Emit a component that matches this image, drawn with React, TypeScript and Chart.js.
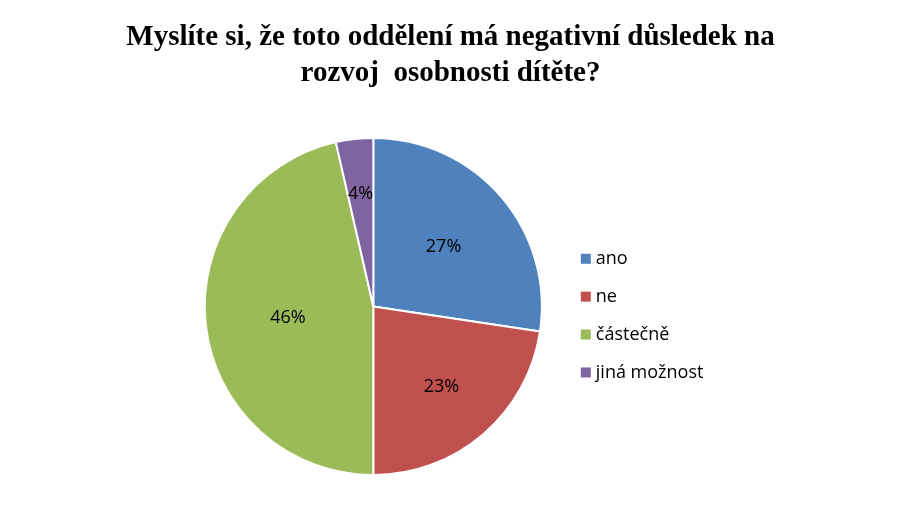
import React, { useEffect, useRef } from 'react';
import { Chart, registerables, layouts } from 'chart.js';

Chart.register(...registerables);

const TITLE_LINES = ['Myslíte si, že toto oddělení má negativní důsledek na', 'rozvoj  osobnosti dítěte?'];
const CATEGORIES = ['ano', 'ne', 'částečně', 'jiná možnost'];
const COUNTS = [23, 19, 39, 3];
const COLORS = ['#4F81BD', '#C0504D', '#9BBB59', '#8064A2'];

const LABEL_RADIUS = [0.55, 0.62, 0.51, 0.68];
const SPACER_WIDTH = 154.4;

const spacerPlugin = {
  id: 'rightSpacer',
  beforeInit(chart: any) {
    const box: any = {
      position: 'right',
      weight: 100,
      fullSize: false,
      options: { stackWeight: 1 },
      top: 0,
      left: 0,
      right: 0,
      bottom: 0,
      width: 0,
      height: 0,
      update(_maxWidth: number, maxHeight: number) {
        this.width = SPACER_WIDTH;
        this.height = maxHeight;
      },
      isHorizontal() {
        return false;
      },
      draw() {},
    };
    layouts.addBox(chart, box);
  },
};

const labelPlugin = {
  id: 'sliceLabels',
  afterDatasetsDraw(chart: any) {
    const ctx = chart.ctx;
    const meta = chart.getDatasetMeta(0);
    const data = chart.data.datasets[0].data as number[];
    const total = data.reduce((a, b) => a + b, 0);
    ctx.save();
    ctx.font = '18px "Open Sans"';
    ctx.fillStyle = '#000';
    ctx.textAlign = 'center';
    ctx.textBaseline = 'alphabetic';
    meta.data.forEach((arc: any, i: number) => {
      const { x, y, startAngle, endAngle, outerRadius } = arc.getProps(
        ['x', 'y', 'startAngle', 'endAngle', 'outerRadius'],
        true
      );
      const mid = (startAngle + endAngle) / 2;
      const r = outerRadius * LABEL_RADIUS[i];
      const txt = Math.round((data[i] / total) * 100) + '%';
      ctx.fillText(txt, x + Math.cos(mid) * r, y + Math.sin(mid) * r + 6.5);
    });
    ctx.restore();
  },
};

const legendPlugin = {
  id: 'sideLegend',
  afterDraw(chart: any) {
    const ctx = chart.ctx;
    const meta = chart.getDatasetMeta(0);
    const arc0 = meta.data[0];
    if (!arc0) return;
    const cx = arc0.x;
    const cy = arc0.y;
    const colors = chart.data.datasets[0].backgroundColor as string[];
    const labels = chart.data.labels as string[];
    ctx.save();
    ctx.font = '18px "Open Sans"';
    ctx.textAlign = 'left';
    ctx.textBaseline = 'alphabetic';
    labels.forEach((lab, i) => {
      const yc = cy - 47.7 + i * 37.9;
      const xs = cx + 207.5;
      ctx.fillStyle = colors[i];
      ctx.fillRect(xs, yc - 5, 10, 10);
      ctx.fillStyle = '#000';
      ctx.fillText(lab, xs + 15, yc + 5.5);
    });
    ctx.restore();
  },
};

export default function App() {
  const canvasRef = useRef<HTMLCanvasElement | null>(null);

  useEffect(() => {
    document.body.style.margin = '0';
    document.body.style.background = '#fff';
    const canvas = canvasRef.current;
    if (!canvas) return;
    const chart = new Chart(canvas, {
      type: 'pie',
      data: {
        labels: CATEGORIES,
        datasets: [
          {
            data: COUNTS,
            backgroundColor: COLORS,
            borderColor: '#ffffff',
            borderWidth: 2,
          },
        ],
      },
      options: {
        animation: false,
        responsive: false,
        maintainAspectRatio: false,
        layout: { padding: { top: 0, left: 0, right: 2, bottom: 51 } },
        plugins: {
          legend: { display: false },
          tooltip: { enabled: false },
          title: {
            display: true,
            text: TITLE_LINES,
            color: '#000',
            font: { family: '"Liberation Serif", "Times New Roman", serif', size: 29, weight: 'bold', lineHeight: 1.24 },
            padding: { top: 20, bottom: 45 },
          },
        },
      },
      plugins: [spacerPlugin, labelPlugin, legendPlugin],
    });
    return () => {
      chart.destroy();
    };
  }, []);

  return (
    <div style={{ width: 903, height: 527, background: '#fff' }}>
      <canvas ref={canvasRef} width={903} height={527} style={{ display: 'block' }} />
    </div>
  );
}
